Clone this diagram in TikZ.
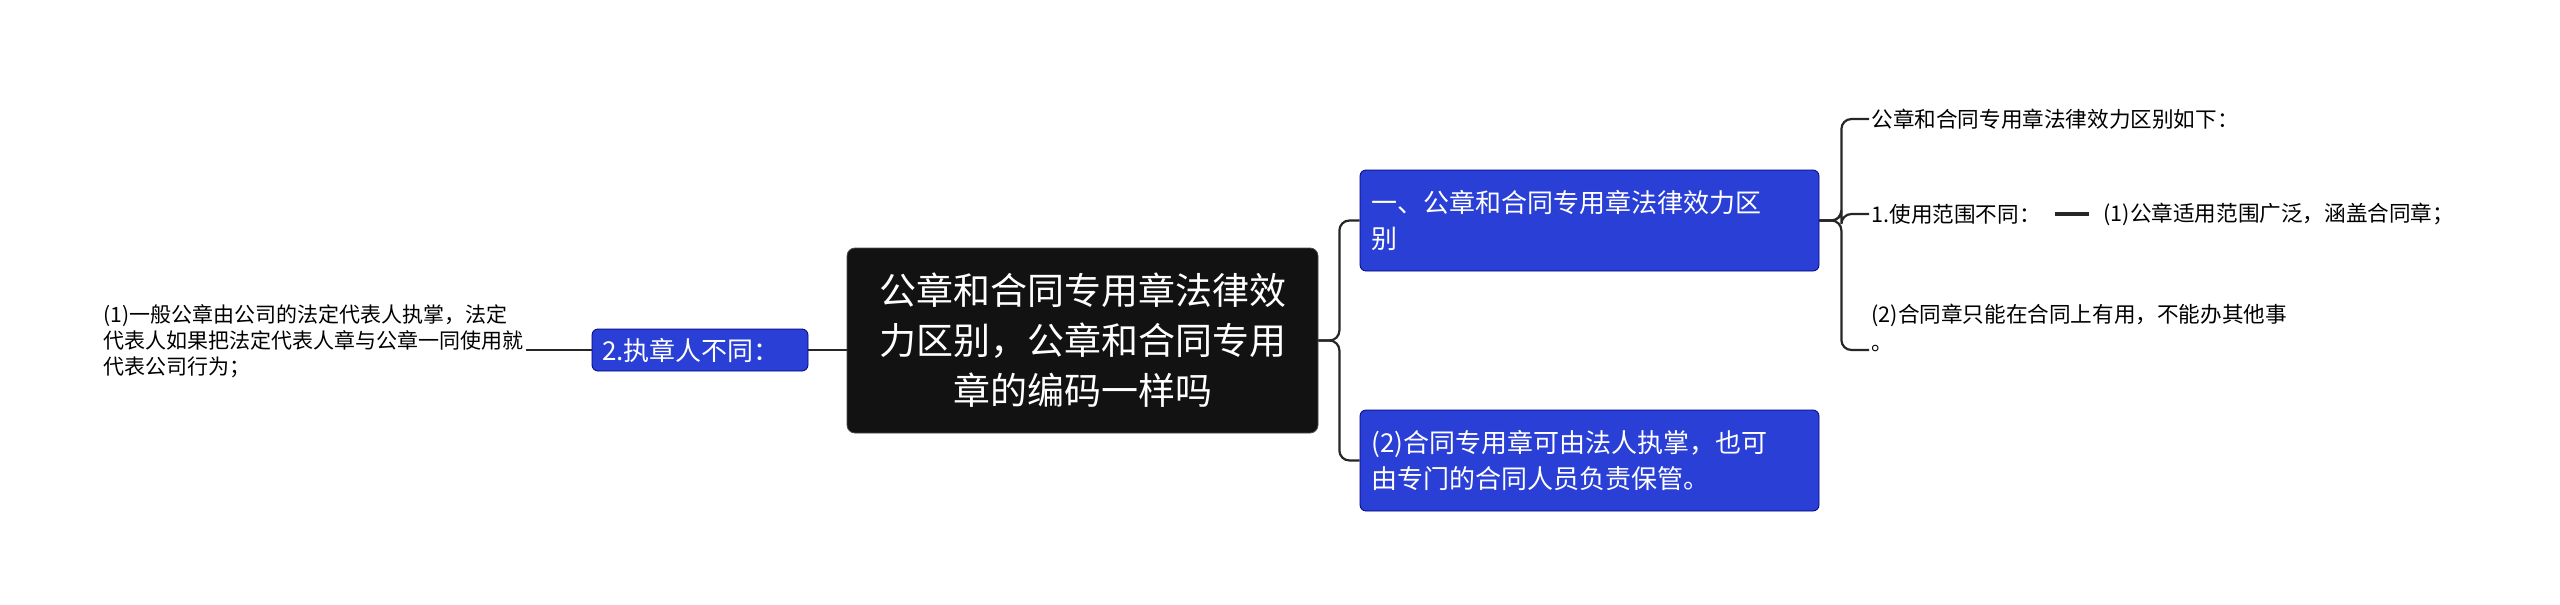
\documentclass[tikz,border=0pt]{standalone}
\usepackage{fontspec}
\setmainfont{Noto Sans CJK SC}
\definecolor{bl}{RGB}{42,63,214}
\begin{document}
\begin{tikzpicture}[x=0.5pt,y=-0.5pt,
  rootbox/.style={fill=black!93,draw=black!70,rounded corners=4pt,text=white,font=\fontsize{18.5pt}{25pt}\selectfont,align=center,inner sep=0pt},
  bluebox/.style={fill=bl,draw=blue!50!black,rounded corners=3pt,text=white,font=\fontsize{13pt}{18pt}\selectfont,align=left,inner sep=0pt},
  leaf/.style={font=\fontsize{10.8pt}{14pt}\selectfont,align=left,inner sep=1pt,anchor=west},
  conn/.style={draw=black!85,line width=1.1pt,rounded corners=5pt}]
\useasboundingbox (0,0) rectangle (2560,605);
\node[rootbox,minimum width=235.5pt,minimum height=92.5pt] (root) at (1082.5,340.5) {公章和合同专用章法律效\\力区别，公章和合同专用\\章的编码一样吗};
\node[bluebox,minimum width=229.5pt,minimum height=50.5pt,text width=218pt] (r1) at (1589.5,220.5) {一、公章和合同专用章法律效力区\\别};
\node[bluebox,minimum width=229.5pt,minimum height=50.5pt,text width=218pt] (r2) at (1589.5,460.5) {(2)合同专用章可由法人执掌，也可\\由专门的合同人员负责保管。};
\node[bluebox,minimum width=108pt,minimum height=21pt,text width=98pt] (l1) at (700,350) {2.执章人不同：};
\node[leaf,font=\fontsize{10.5pt}{13pt}\selectfont] (lt) at (101,341) {(1)一般公章由公司的法定代表人执掌，法定\\代表人如果把法定代表人章与公章一同使用就\\代表公司行为；};
\node[leaf] (a) at (1869,119) {公章和合同专用章法律效力区别如下：};
\node[leaf] (b) at (1869,214) {1.使用范围不同：};
\node[leaf] (c) at (2101,214) {(1)公章适用范围广泛，涵盖合同章；};
\node[leaf] (d) at (1869,328) {(2)合同章只能在合同上有用，不能办其他事\\。};
\draw[conn] (root.west |- l1.east) -- (l1.east);
\draw[conn] (root.east) -- ++(21,0) |- (r1.west);
\draw[conn] (root.east) -- ++(21,0) |- (r2.west);
\draw[conn] (l1.west) -- (l1.west -| lt.east);
\draw[conn] (r1.east) -- ++(22,0) |- (a.west);
\draw[conn] (r1.east) -- ++(22,0) |- (b.west);
\draw[conn] (r1.east) -- ++(22,0) |- ([yshift=-11]d.west);
\draw[conn,line width=1.6pt] ([xshift=6]b.east) -- ([xshift=-6]c.west);
\end{tikzpicture}
\end{document}
